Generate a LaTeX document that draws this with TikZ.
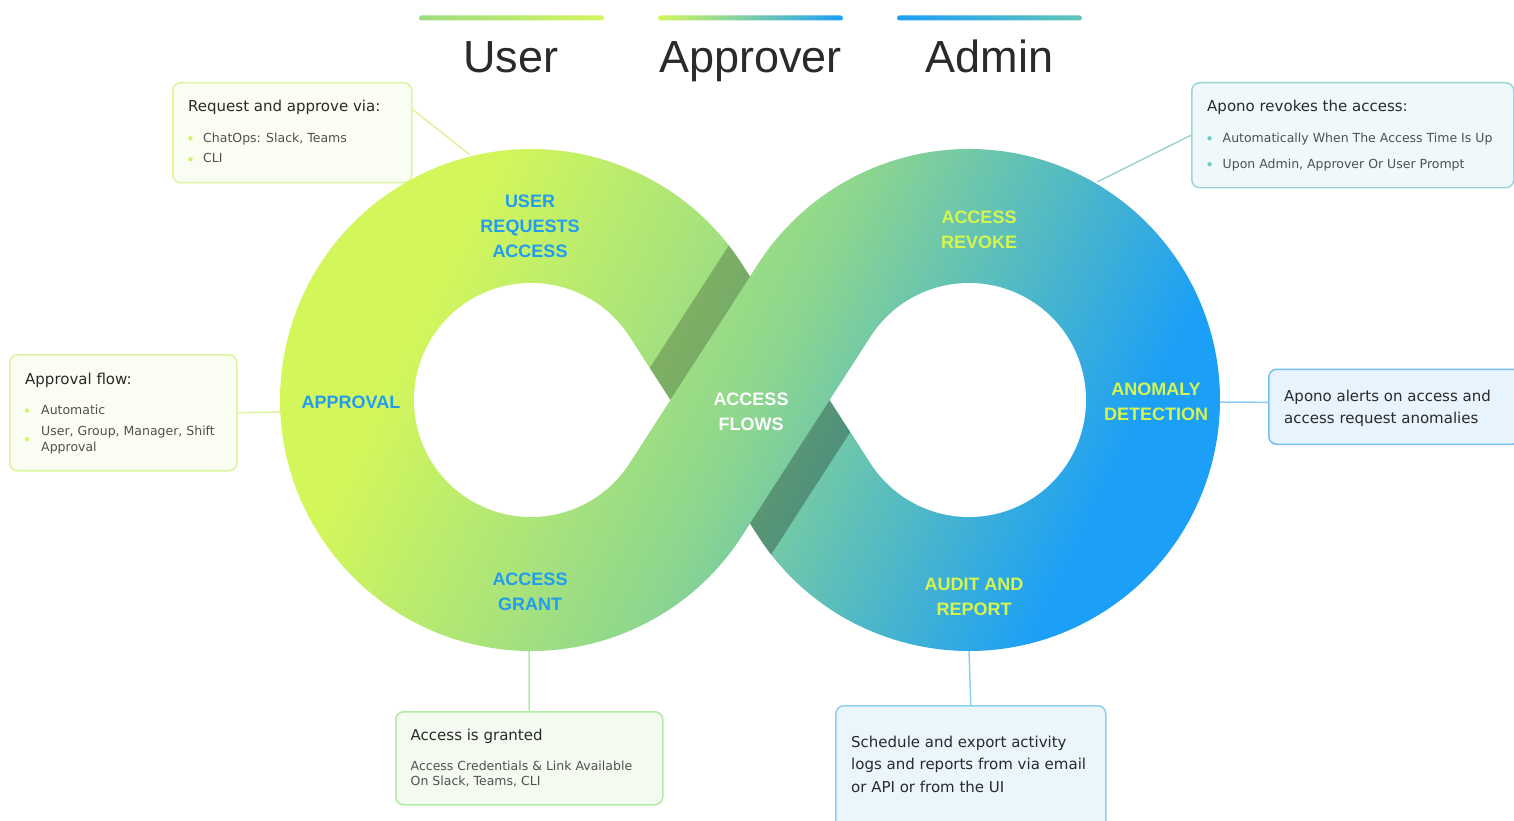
\documentclass[tikz,border=0pt]{standalone}
\usepackage{fontspec}
\setmainfont{DejaVu Sans}
\newfontfamily\headfont{Liberation Sans}

\definecolor{limeC}{HTML}{D3F75B}
\definecolor{mintC}{HTML}{8DD68F}
\definecolor{skyC}{HTML}{1B9FF7}
\definecolor{grassC}{HTML}{9CDB82}
\definecolor{tealC}{HTML}{60C5B8}
\definecolor{labelblue}{HTML}{239CF0}
\definecolor{labellime}{HTML}{D6F54E}
\definecolor{inkC}{HTML}{2A2A2A}
\definecolor{greyC}{HTML}{505050}
\definecolor{limeEdge}{HTML}{DAF59C}
\definecolor{limeFill}{HTML}{FAFDF1}
\definecolor{limeDot}{HTML}{D3F36C}
\definecolor{tealEdge}{HTML}{9AD6D8}
\definecolor{tealFill}{HTML}{EFF9F9}
\definecolor{tealDot}{HTML}{6CC9C9}
\definecolor{skyEdge}{HTML}{72BEF3}
\definecolor{skyFill}{HTML}{E7F3FD}
\definecolor{grassEdge}{HTML}{B2EAA4}
\definecolor{grassFill}{HTML}{F3FBF1}
\definecolor{iceEdge}{HTML}{8FCFF0}
\definecolor{iceFill}{HTML}{EAF5FC}

\pgfdeclarehorizontalshading{loopshade}{100bp}{color(0bp)=(limeC); color(33bp)=(limeC); color(50bp)=(mintC); color(68bp)=(skyC); color(100bp)=(skyC)}

\tikzset{
  titlelabel/.style={font=\headfont\fontsize{45}{54}\selectfont, text=inkC, anchor=base},
  looplabel/.style={font=\headfont\bfseries\fontsize{18}{25}\selectfont, align=center},
  infobox/.style 2 args={draw=#1, fill=#2, line width=1.5pt, rounded corners=8pt, anchor=north west},
  boxbig/.style={font=\fontsize{15}{22}\selectfont, text=inkC, anchor=base west, inner sep=0pt},
  boxsmall/.style={font=\fontsize{12.5}{16}\selectfont, text=greyC, anchor=base west, inner sep=0pt},
  link/.style={line width=1.5pt, draw=#1},
}

\begin{document}
\begin{tikzpicture}[x=1pt, y=-1pt]
  \path[fill=white, use as bounding box] (0,0) rectangle (1514,821);

  % role bars and headings
  \shade[left color=grassC, right color=limeC, rounded corners=2.5pt] (419,15.5) rectangle (604,20.5);
  \shade[left color=limeC, right color=skyC, rounded corners=2.5pt] (658,15.5) rectangle (843,20.5);
  \shade[left color=skyC, right color=tealC, rounded corners=2.5pt] (897,15.5) rectangle (1082,20.5);
  \node[titlelabel] (user) at (511,73) {User};
  \node[titlelabel] (approver) at (750.5,73) {Approver};
  \node[titlelabel] (admin) at (989.5,73) {Admin};

  % callout boxes
  \node[infobox={limeEdge}{limeFill}, minimum width=239pt, minimum height=100pt] (reqbox) at (172,82) {};
  \node[infobox={limeEdge}{limeFill}, minimum width=227pt, minimum height=116pt] (flowbox) at (9,354) {};
  \node[infobox={tealEdge}{tealFill}, minimum width=322pt, minimum height=105pt] (revokebox) at (1191,82) {};
  \node[infobox={skyEdge}{skyFill}, minimum width=252pt, minimum height=75pt] (alertbox) at (1268,368.5) {};
  \node[infobox={grassEdge}{grassFill}, minimum width=267pt, minimum height=93pt] (grantbox) at (395,711) {};
  \node[infobox={iceEdge}{iceFill}, minimum width=270pt, minimum height=130pt] (auditbox) at (835,705) {};

  % leader lines to the ribbon
  \coordinate (reqtip) at (470,155);
  \coordinate (flowtip) at (282,412);
  \coordinate (revoketip) at (1097,182);
  \coordinate (alerttip) at (1218,402);
  \coordinate (granttip) at (529,650);
  \coordinate (audittip) at (969,650);
  \draw[link=limeEdge] (reqbox.11) -- (reqtip);
  \draw[link=limeEdge] (flowbox.east) -- (flowtip);
  \draw[link=tealEdge] (revokebox.west) -- (revoketip);
  \draw[link=skyEdge!80] (alertbox.178) -- (alerttip);
  \draw[link=grassEdge] (grantbox.north) -- (granttip);
  \draw[link=iceEdge] (auditbox.north) -- (audittip);

  % figure-eight ribbon, centres (531,400) and (969,400), radii 117 / 251
  % (acos (/ 184.0 219.0)) 32.85
  % (* 251 (cos 32.85)) 210.89   (* 251 (sin 32.85)) 136.12
  % (* 117 (cos 32.85))  98.30   (* 117 (sin 32.85))  63.45
  \begin{scope}
    \clip (741.89,263.88) arc (-32.85:-327.15:251) -- (750,523.56) -- (758.11,536.12)
          arc (147.15:-147.15:251) -- (750,276.45) -- cycle;
    \shade[shading=loopshade, shading angle=-26] (250,-90) rectangle (1250,910);
    % shade where the back strip runs under the front one
    \fill[black, opacity=0.22] (670.25,400) -- (750,276.45) -- (729.4,244.55) -- (649.65,368.1) -- cycle;
    \fill[black, opacity=0.27] (749.9,523.56) -- (829.75,400) -- (850.35,431.9) -- (770.5,555.46) -- cycle;
  \end{scope}
  % the two holes
  \fill[white] (629.30,463.45) arc (32.85:327.15:117) -- (670.25,400) -- cycle;
  \fill[white] (870.70,336.55) arc (212.85:507.15:117) -- (829.75,400) -- cycle;

  % stage names on the ribbon
  \node[looplabel, text=labelblue] (reqlabel) at (530,226) {USER\\REQUESTS\\ACCESS};
  \node[looplabel, text=labelblue] (approvallabel) at (351,402) {APPROVAL};
  \node[looplabel, text=labelblue] (grantlabel) at (530,591.5) {ACCESS\\GRANT};
  \node[looplabel, text=white] (flowslabel) at (751,411.5) {ACCESS\\FLOWS};
  \node[looplabel, text=labellime] (revokelabel) at (979,229.5) {ACCESS\\REVOKE};
  \node[looplabel, text=labellime] (anomalylabel) at (1156,401.5) {ANOMALY\\DETECTION};
  \node[looplabel, text=labellime] (auditlabel) at (974,596.5) {AUDIT AND\\REPORT};

  % box texts
  \node[boxbig] (reqhead) at (188,112) {Request and approve via:};
  \node[boxsmall] (reqchat) at (203,142.5) {ChatOps: Slack, Teams};
  \node[boxsmall] (reqcli) at (203,163) {CLI};
  \fill[limeDot] (190.5,138.3) circle (2.2) (190.5,159.3) circle (2.2);

  \node[boxbig] (flowhead) at (25,384) {Approval flow:};
  \node[boxsmall] (flowauto) at (41,414) {Automatic};
  \node[boxsmall] (flowwho) at (41,435) {User, Group, Manager, Shift};
  \node[boxsmall] (flowwhob) at (41,451) {Approval};
  \fill[limeDot] (27,410.5) circle (2.2) (27,439) circle (2.2);

  \node[boxbig] (revokehead) at (1207,111.7) {Apono revokes the access:};
  \node[boxsmall] (revokeauto) at (1222.5,142.7) {Automatically When The Access Time Is Up};
  \node[boxsmall] (revokeprompt) at (1222.5,168.3) {Upon Admin, Approver Or User Prompt};
  \fill[tealDot] (1209.5,138.3) circle (2.2) (1209.5,164.3) circle (2.2);

  \node[boxbig] (alerta) at (1284,401.7) {Apono alerts on access and};
  \node[boxbig] (alertb) at (1284,423.3) {access request anomalies};

  \node[boxbig] (granthead) at (410.5,740) {Access is granted};
  \node[boxsmall] (granta) at (410.5,770.5) {Access Credentials \& Link Available};
  \node[boxsmall] (grantb) at (410.5,785.5) {On Slack, Teams, CLI};

  \node[boxbig] (audita) at (851,747.3) {Schedule and export activity};
  \node[boxbig] (auditb) at (851,769.7) {logs and reports from via email};
  \node[boxbig] (auditc) at (851,792) {or API or from the UI};
\end{tikzpicture}
\end{document}
